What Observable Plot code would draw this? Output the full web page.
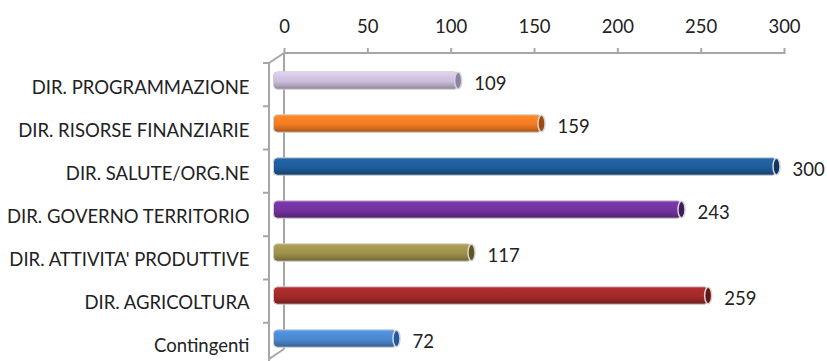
<!DOCTYPE html>
<html>
<head>
<meta charset="utf-8">
<script src="https://cdn.jsdelivr.net/npm/d3@7"></script>
<script src="https://cdn.jsdelivr.net/npm/@observablehq/plot@0.6"></script>
<style>
  html, body { margin: 0; padding: 0; background: #ffffff; }
  #chart { width: 827px; height: 361px; }
</style>
</head>
<body>
<div id="chart"></div>
<script>
const categories = [
  "DIR. PROGRAMMAZIONE",
  "DIR. RISORSE FINANZIARIE",
  "DIR. SALUTE/ORG.NE",
  "DIR. GOVERNO TERRITORIO",
  "DIR. ATTIVITA' PRODUTTIVE",
  "DIR. AGRICOLTURA",
  "Contingenti"
];
const values = [109, 159, 300, 243, 117, 259, 72];
const barColors = ["#CBBEDB", "#F27B22", "#1F5C9A", "#73329E", "#9E914B", "#A3292A", "#4B88D0"];
const capColors = ["#8E80A6", "#A04A0E", "#0E3766", "#45195F", "#5F5626", "#651515", "#1F5AA0"];
const xTicks = [0, 50, 100, 150, 200, 250, 300];

const data = categories.map((name, i) => ({
  name, value: values[i], fill: `url(#grad${i})`, cap: capColors[i]
}));

const DEPTH_X = 15, DEPTH_Y = 10;
const AXIS_GRAY = "#a6a6a6";
const FONT_SIZE = 18.5;

function frame3d(index, scales, values, dims) {
  const {width, height, marginTop, marginBottom} = dims;
  const x0 = scales.x(0), x1 = scales.x(xTicks[xTicks.length - 1]);
  const n = categories.length;
  const step = (height - marginTop - marginBottom) / n;
  const g = d3.create("svg:g");
  const defs = g.append("defs");
  barColors.forEach((c, i) => {
    const base = d3.color(c);
    const lg = defs.append("linearGradient").attr("id", `grad${i}`)
      .attr("x1", 0).attr("y1", 0).attr("x2", 0).attr("y2", 1);
    const stops = [
      [0, base.brighter(0.35)],
      [0.25, base.brighter(0.15)],
      [0.55, base],
      [0.8, base.darker(0.45)],
      [1, base.darker(1.1)]
    ];
    stops.forEach(([o, col]) => lg.append("stop").attr("offset", o).attr("stop-color", col.formatHex()));
  });
  const p = d3.path();
  p.moveTo(x0, marginTop); p.lineTo(x1, marginTop);
  const backBottom = height - 12;
  p.moveTo(x0, marginTop); p.lineTo(x0, backBottom);
  p.moveTo(x0, marginTop); p.lineTo(x0 - DEPTH_X, marginTop + DEPTH_Y);
  p.moveTo(x0, backBottom); p.lineTo(x0 - DEPTH_X, backBottom + DEPTH_Y);
  p.moveTo(x0 - DEPTH_X, marginTop + DEPTH_Y); p.lineTo(x0 - DEPTH_X, height + 10);
  for (let k = 0; k <= n; k++) {
    const y = marginTop + DEPTH_Y + k * step;
    p.moveTo(x0 - DEPTH_X - 6, y); p.lineTo(x0 - DEPTH_X, y);
  }
  g.append("path").attr("d", p.toString())
    .attr("fill", "none").attr("stroke", AXIS_GRAY).attr("stroke-width", 2);
  return g.node();
}

const chart = Plot.plot({
  width: 827,
  height: 361,
  marginTop: 53,
  marginBottom: 5,
  marginLeft: 284,
  marginRight: 43,
  style: {fontFamily: "Lato, 'Open Sans', sans-serif", fontSize: FONT_SIZE + "px", color: "#222222", background: "#ffffff"},
  x: {domain: [0, 300]},
  y: {domain: categories, padding: 0},
  color: {type: "identity"},
  marks: [
    frame3d,
    Plot.axisX(xTicks, {anchor: "top", tickSize: 6, tickPadding: 15, stroke: AXIS_GRAY, strokeWidth: 2, fill: "#222222", fontSize: FONT_SIZE, label: null}),
    Plot.axisY({anchor: "left", tickSize: 0, tickPadding: 35, dy: 12, fill: "#222222", fontSize: FONT_SIZE, label: null}),
    Plot.barX(data, {
      x: "value", y: "name", fill: "fill",
      insetTop: 12.8, insetBottom: 12.8, insetLeft: -3,
      dx: -7.5, dy: 5, rx: 4,
      stroke: "#cfcfcf", strokeWidth: 1
    }),
    Plot.barX(data, {
      x1: "value", x2: "value", y: "name", fill: "cap",
      insetTop: 13.3, insetBottom: 13.3, insetLeft: -3.5, insetRight: -3.5,
      dx: -7.5, dy: 5, rx: 3.5, ry: 8,
      stroke: "#d4d4d4", strokeWidth: 1.5
    }),
    Plot.text(data, {
      x: "value", y: "name", text: d => String(d.value),
      textAnchor: "start", dx: 8, dy: 8, fill: "#222222", fontSize: FONT_SIZE
    })
  ]
});
document.getElementById("chart").appendChild(chart);
</script>
</body>
</html>
